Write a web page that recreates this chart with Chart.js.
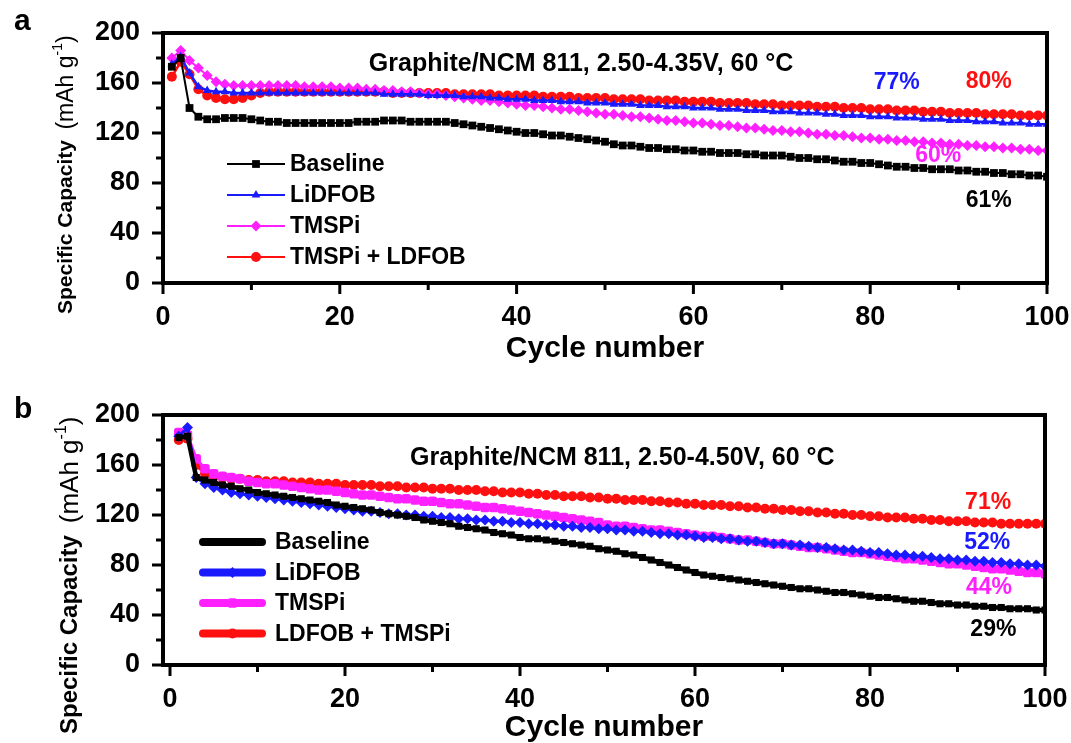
<!DOCTYPE html>
<html>
<head>
<meta charset="utf-8">
<script src="https://cdn.jsdelivr.net/npm/chart.js@4.4.1/dist/chart.umd.min.js"></script>
<style>
  html, body { margin: 0; padding: 0; background: #fff; }
  #wrap { position: relative; width: 1071px; height: 743px; }
  canvas { position: absolute; left: 0; }
  #chartA { top: 0; }
  #chartB { top: 372px; }
</style>
</head>
<body>
<div id="wrap">
  <canvas id="chartA" width="1071" height="372"></canvas>
  <canvas id="chartB" width="1071" height="371"></canvas>
</div>
<script>
// cycle index shared by every series
const cycles = Array.from({ length: 100 }, (_, i) => i + 1);

// --- panel a: 2.50-4.35 V ---
const baselineA = [
  173, 180, 140, 133, 131, 131, 132, 132, 132, 131,
  130, 129, 129, 128, 128, 128, 128, 128, 128, 128,
  128, 129, 129, 129, 130, 130, 130, 129, 129, 129,
  129, 129, 128, 127, 126, 125, 124, 123, 122, 121,
  120, 120, 119, 118, 118, 117, 116, 115, 114, 113,
  111, 110, 110, 109, 108, 108, 107, 107, 106, 106,
  105, 105, 104, 104, 104, 103, 103, 102, 102, 102,
  101, 100, 100, 99, 99, 98, 97, 97, 96, 96,
  95, 94, 93, 93, 92, 92, 91, 91, 91, 90,
  90, 89, 89, 88, 88, 87, 87, 86, 86, 85
];
const lidfobA = [
  175, 181, 168, 157, 154, 153, 153, 152, 152, 152,
  152, 152, 152, 152, 152, 152, 152, 152, 152, 152,
  152, 152, 152, 152, 151, 151, 151, 151, 151, 150,
  150, 150, 150, 149, 149, 149, 148, 148, 147, 147,
  147, 146, 146, 146, 145, 145, 145, 144, 144, 144,
  143, 143, 143, 142, 142, 142, 141, 141, 141, 140,
  140, 140, 139, 139, 139, 138, 138, 138, 137, 137,
  137, 136, 136, 136, 135, 135, 134, 134, 134, 133,
  133, 133, 132, 132, 132, 131, 131, 131, 130, 130,
  130, 129, 129, 129, 128, 128, 128, 127, 127, 127
];
const tmspiA = [
  180, 186, 178, 172, 166, 161, 159, 158, 158, 158,
  158, 158, 158, 158, 158, 157, 157, 157, 157, 156,
  156, 156, 155, 155, 154, 154, 153, 153, 152, 151,
  151, 150, 149, 148, 147, 146, 146, 145, 144, 143,
  142, 142, 141, 140, 139, 139, 138, 137, 136, 135,
  135, 134, 133, 133, 132, 131, 130, 130, 129, 128,
  128, 127, 126, 126, 125, 124, 124, 123, 122, 122,
  121, 121, 120, 119, 119, 118, 118, 117, 116, 116,
  115, 115, 114, 114, 113, 113, 112, 112, 111, 111,
  110, 110, 109, 109, 108, 108, 107, 107, 106, 106
];
const comboA = [
  165, 177, 167, 155, 150, 148, 147, 147, 148, 150,
  152, 153, 153, 153, 153, 153, 153, 153, 153, 153,
  153, 153, 153, 153, 153, 152, 152, 152, 152, 152,
  152, 152, 151, 151, 151, 151, 151, 150, 150, 150,
  150, 150, 149, 149, 149, 149, 148, 148, 148, 148,
  147, 147, 147, 147, 146, 146, 146, 146, 145, 145,
  145, 145, 144, 144, 144, 144, 143, 143, 143, 142,
  142, 142, 142, 141, 141, 141, 140, 140, 140, 139,
  139, 139, 138, 138, 138, 137, 137, 137, 136, 136,
  136, 136, 135, 135, 135, 135, 134, 134, 134, 134
];

// --- panel b: 2.50-4.50 V ---
const baselineB = [
  182, 183, 150, 148, 146, 144, 143, 141, 140, 138,
  137, 136, 135, 134, 133, 132, 131, 130, 128, 127,
  126, 125, 124, 122, 121, 120, 119, 118, 116, 115,
  114, 113, 111, 110, 109, 108, 106, 105, 104, 102,
  101, 101, 100, 99, 98, 97, 96, 95, 93, 92,
  91, 89, 88, 86, 84, 82, 80, 78, 76, 74,
  72, 71, 70, 69, 68, 67, 66, 65, 64, 63,
  62, 61, 61, 60, 59, 58, 58, 57, 56, 55,
  54, 54, 53, 52, 51, 51, 50, 49, 49, 48,
  48, 47, 47, 46, 46, 45, 45, 45, 44, 44
];
const lidfobB = [
  183, 190, 150, 145, 142, 140, 138, 137, 136, 135,
  134, 133, 132, 131, 130, 129, 128, 127, 126, 125,
  124, 123, 123, 122, 121, 121, 120, 120, 119, 119,
  118, 118, 117, 117, 116, 116, 115, 115, 114, 114,
  113, 113, 112, 112, 111, 111, 110, 110, 109, 109,
  108, 108, 107, 107, 106, 105, 105, 104, 104, 103,
  102, 102, 101, 101, 100, 99, 99, 98, 97, 97,
  96, 96, 95, 94, 94, 93, 92, 92, 91, 90,
  90, 89, 88, 88, 87, 87, 86, 85, 85, 84,
  84, 83, 83, 82, 82, 81, 81, 80, 80, 79
];
const tmspiB = [
  186, 184, 165, 157, 153, 151, 150, 149, 147, 146,
  145, 145, 144, 143, 142, 141, 140, 140, 139, 138,
  137, 136, 136, 135, 134, 133, 133, 132, 131, 131,
  130, 129, 129, 128, 127, 126, 126, 125, 124, 123,
  122, 121, 120, 119, 118, 117, 116, 115, 114, 112,
  111, 111, 110, 109, 108, 108, 107, 106, 105, 104,
  103, 103, 102, 101, 100, 100, 99, 98, 97, 97,
  96, 95, 94, 94, 93, 92, 91, 90, 90, 89,
  88, 87, 86, 85, 85, 84, 83, 82, 81, 81,
  80, 79, 78, 77, 77, 76, 75, 74, 74, 73
];
const comboB = [
  180, 181, 160, 153, 151, 150, 149, 149, 148, 148,
  147, 147, 147, 146, 146, 146, 145, 145, 145, 144,
  144, 144, 144, 143, 143, 143, 142, 142, 142, 141,
  141, 141, 140, 140, 140, 139, 139, 138, 138, 138,
  137, 137, 136, 136, 135, 135, 135, 134, 134, 133,
  133, 132, 132, 132, 131, 131, 130, 130, 129, 129,
  128, 128, 128, 127, 127, 126, 126, 125, 125, 124,
  124, 123, 123, 122, 122, 121, 121, 120, 120, 119,
  119, 118, 118, 118, 117, 117, 116, 116, 115, 115,
  115, 114, 114, 114, 113, 113, 113, 113, 113, 113
];

// axis ticks
const xLabelTicks = [0, 20, 40, 60, 80, 100];
const xMarkTicks = [0, 10, 20, 30, 40, 50, 60, 70, 80, 90, 100];
const yLabelTicks = [0, 40, 80, 120, 160, 200];
const yMarkTicks = [0, 20, 40, 60, 80, 100, 120, 140, 160, 180, 200];

// retention labels [text, cycle, capacity, colour]
const notesA = [
  ['77%', 83, 160, '#1a1aff'],
  ['80%', 93.4, 161, '#ff1010'],
  ['60%', 87.7, 102, '#ff20ff'],
  ['61%', 93.4, 66, '#000']
];
const notesB = [
  ['71%', 93.5, 130, '#ff1010'],
  ['52%', 93.4, 97.5, '#1a1aff'],
  ['44%', 93.6, 61.5, '#ff20ff'],
  ['29%', 94.1, 28, '#000']
];

const FONT = "'Liberation Sans', Arial, sans-serif";
const BLACK = '#000000', BLUE = '#1a1aff', MAGENTA = '#ff20ff', RED = '#ff1010';

function series(label, values, color, style, radius, width) {
  return {
    label,
    data: values.map((v, i) => ({ x: cycles[i], y: v })),
    borderColor: color,
    backgroundColor: color,
    borderWidth: width,
    pointStyle: style,
    pointRadius: radius,
    pointBorderWidth: 0,
    pointBackgroundColor: color,
    tension: 0
  };
}

function decor(p) {
  return {
    id: 'decor',
    afterDraw(chart) {
      const ctx = chart.ctx;
      const { left, right, top, bottom } = chart.chartArea;
      const xs = chart.scales.x, ys = chart.scales.y;
      ctx.save();

      // frame
      ctx.strokeStyle = '#000';
      ctx.lineWidth = 4;
      ctx.strokeRect(left, top, right - left, bottom - top);

      // outward tick marks, long on labelled ticks
      ctx.lineWidth = 3;
      ctx.beginPath();
      xMarkTicks.forEach(v => {
        const x = xs.getPixelForValue(v);
        const len = xLabelTicks.includes(v) ? 9 : 5;
        ctx.moveTo(x, bottom + 2);
        ctx.lineTo(x, bottom + 2 + len);
      });
      yMarkTicks.forEach(v => {
        const y = ys.getPixelForValue(v);
        const len = yLabelTicks.includes(v) ? 9 : 5;
        ctx.moveTo(left - 2, y);
        ctx.lineTo(left - 2 - len, y);
      });
      ctx.stroke();

      // panel letter
      ctx.fillStyle = '#000';
      ctx.textAlign = 'left';
      ctx.textBaseline = 'middle';
      ctx.font = 'bold 30px ' + FONT;
      ctx.fillText(p.letter, p.letterX, p.letterY);

      // y title, rotated, with the units part in regular weight
      ctx.save();
      ctx.translate(p.yTitleX, p.yTitleY);
      ctx.rotate(-Math.PI / 2);
      ctx.textBaseline = 'middle';
      ctx.font = 'bold ' + p.yTitleSize + 'px ' + FONT;
      let cx = 0;
      ctx.fillText('Specific Capacity', cx, 0);
      cx += ctx.measureText('Specific Capacity').width + p.yTitleSize * 0.5;
      ctx.font = p.unitSize + 'px ' + FONT;
      ctx.fillText('(mAh g', cx, 1);
      cx += ctx.measureText('(mAh g').width;
      ctx.font = Math.round(p.unitSize * 0.62) + 'px ' + FONT;
      ctx.fillText('-1', cx, -p.unitSize * 0.33);
      cx += ctx.measureText('-1').width;
      ctx.font = p.unitSize + 'px ' + FONT;
      ctx.fillText(')', cx, 1);
      ctx.restore();

      // x title
      ctx.textAlign = 'center';
      ctx.font = 'bold 30px ' + FONT;
      ctx.fillText('Cycle number', (left + right) / 2, p.xTitleY);

      // condition text
      ctx.font = 'bold 25px ' + FONT;
      ctx.fillText(p.title, xs.getPixelForValue(p.titleAt[0]), ys.getPixelForValue(p.titleAt[1]));

      // retention labels
      ctx.font = 'bold 23px ' + FONT;
      p.notes.forEach(([t, c, v, col]) => {
        ctx.fillStyle = col;
        ctx.fillText(t, xs.getPixelForValue(c), ys.getPixelForValue(v));
      });

      // legend: line with a marker in the middle
      chart.data.datasets.forEach((ds, i) => {
        const y = top + p.legTop + i * p.legGap;
        const x0 = left + p.legX0, x1 = left + p.legX1;
        ctx.strokeStyle = ds.borderColor;
        ctx.lineWidth = p.legLine;
        ctx.lineCap = p.legLine > 4 ? 'round' : 'butt';
        ctx.beginPath();
        ctx.moveTo(x0, y);
        ctx.lineTo(x1, y);
        ctx.stroke();
        ctx.fillStyle = ds.borderColor;
        Chart.helpers.drawPoint(ctx, { pointStyle: ds.pointStyle, radius: ds.pointRadius, rotation: 0, borderWidth: 0 }, (x0 + x1) / 2, y);
        ctx.fillStyle = '#000';
        ctx.textAlign = 'left';
        ctx.font = 'bold 23px ' + FONT;
        ctx.fillText(ds.label, left + p.legText, y + 1);
      });

      ctx.restore();
    }
  };
}

function makeChart(id, datasets, xMin, pad, xAxisH, p) {
  return new Chart(document.getElementById(id), {
    type: 'line',
    data: { datasets },
    options: {
      responsive: false,
      animation: false,
      devicePixelRatio: 1,
      layout: { padding: pad },
      plugins: { legend: { display: false }, tooltip: { enabled: false } },
      scales: {
        x: {
          type: 'linear', min: xMin, max: 100,
          grid: { display: false }, border: { display: false },
          ticks: { color: '#000', font: { family: FONT, size: 27, weight: 'bold' }, padding: 10, maxRotation: 0, autoSkip: false },
          afterBuildTicks: s => { s.ticks = xLabelTicks.map(v => ({ value: v })); },
          afterFit: s => { s.height = xAxisH; s.paddingLeft = 0; s.paddingRight = 0; }
        },
        y: {
          min: 0, max: 200,
          grid: { display: false }, border: { display: false },
          ticks: { color: '#000', font: { family: FONT, size: 27, weight: 'bold' }, padding: 15 },
          afterBuildTicks: s => { s.ticks = yLabelTicks.map(v => ({ value: v })); },
          afterFit: s => { s.width = 163; s.paddingTop = 0; s.paddingBottom = 0; }
        }
      }
    },
    plugins: [decor(p)]
  });
}

makeChart('chartA', [
  series('Baseline', baselineA, BLACK, 'rect', 5.5, 2),
  series('LiDFOB', lidfobA, BLUE, 'triangle', 5, 2.5),
  series('TMSPi', tmspiA, MAGENTA, 'rectRot', 5.5, 2),
  series('TMSPi + LDFOB', comboA, RED, 'circle', 5, 2.5)
], 0, { top: 33, right: 24, left: 0, bottom: 0 }, 89, {
  letter: 'a', letterX: 14, letterY: 22,
  yTitleX: 66, yTitleY: 314, yTitleSize: 21, unitSize: 23,
  xTitleY: 349,
  title: 'Graphite/NCM 811, 2.50-4.35V, 60 °C', titleAt: [47.3, 175],
  notes: notesA,
  legTop: 131, legGap: 31, legX0: 64, legX1: 122, legText: 127, legLine: 2
});

makeChart('chartB', [
  series('Baseline', baselineB, BLACK, 'rect', 5, 4.5),
  series('LiDFOB', lidfobB, BLUE, 'rectRot', 5.5, 3),
  series('TMSPi', tmspiB, MAGENTA, 'rectRounded', 5.5, 3),
  series('LDFOB + TMSPi', comboB, RED, 'circle', 5, 3)
], -0.8, { top: 43, right: 26, left: 0, bottom: 0 }, 78, {
  letter: 'b', letterX: 14, letterY: 38,
  yTitleX: 70, yTitleY: 362, yTitleSize: 24, unitSize: 26,
  xTitleY: 356,
  title: 'Graphite/NCM 811, 2.50-4.50V, 60 °C', titleAt: [51.7, 165.5],
  notes: notesB,
  legTop: 127, legGap: 30.5, legX0: 40, legX1: 99, legText: 112, legLine: 8
});
</script>
</body>
</html>
